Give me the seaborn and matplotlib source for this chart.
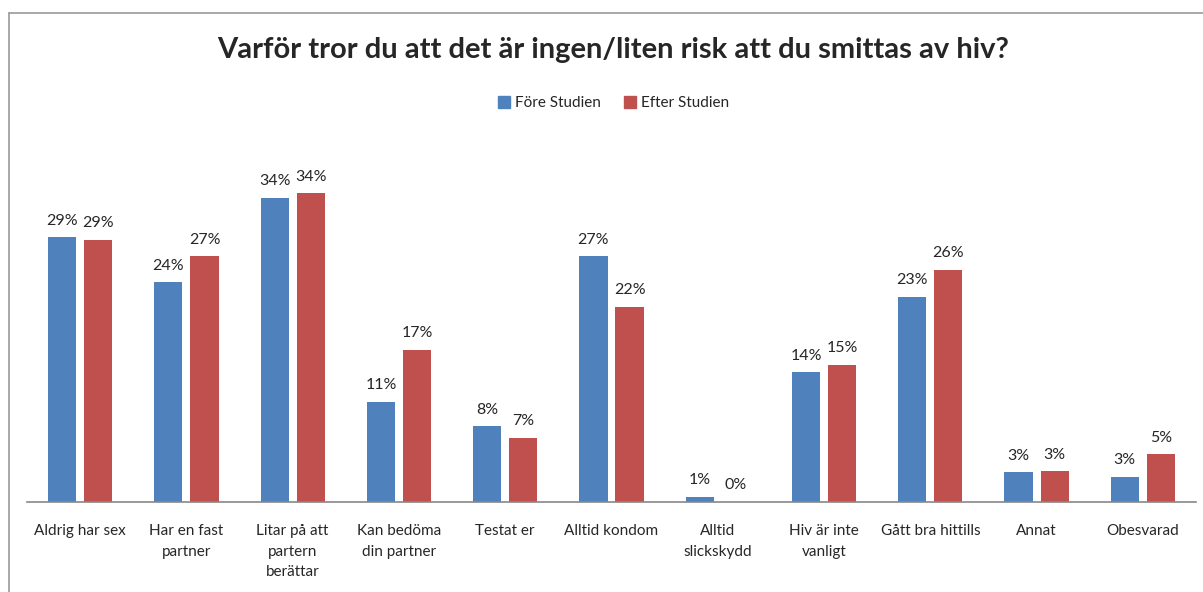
import pandas as pd
import matplotlib.pyplot as plt
import seaborn as sns
from matplotlib.lines import Line2D

categories = ['Aldrig har sex', 'Har en fast\npartner', 'Litar på att\npartern\nberättar',
              'Kan bedöma\ndin partner', 'Testat er', 'Alltid kondom', 'Alltid\nslickskydd',
              'Hiv är inte\nvanligt', 'Gått bra hittills', 'Annat', 'Obesvarad']
fore = [29.4, 24.4, 33.8, 11.1, 8.4, 27.3, 0.6, 14.4, 22.8, 3.3, 2.8]
efter = [29.1, 27.3, 34.3, 16.9, 7.1, 21.7, 0.0, 15.2, 25.8, 3.4, 5.3]
series = ['Före Studien', 'Efter Studien']
colors = ['#4F81BD', '#C0504D']

df = pd.DataFrame({'kategori': categories * 2,
                   'serie': [series[0]] * len(categories) + [series[1]] * len(categories),
                   'andel': fore + efter})

sns.set_style('white')
plt.rcParams['font.family'] = ['Lato', 'DejaVu Sans']

fig = plt.figure(figsize=(12.03, 5.92), dpi=100)
ax = fig.add_axes([27 / 1203, (592 - 502) / 592, (1196 - 27) / 1203, 360 / 592])

sns.barplot(data=df, x='kategori', y='andel', hue='serie', palette=colors, saturation=1,
            width=0.68, gap=0.22, ax=ax, edgecolor='none', legend=False)

for cont in ax.containers:
    ax.bar_label(cont, labels=[f'{v:.0f}%' for v in cont.datavalues],
                 padding=7, fontsize=11.5)

ax.set_ylim(0, 40)
ax.set_xlim(-0.5, len(categories) - 0.5)
ax.set_xlabel('')
ax.set_ylabel('')
ax.set_yticks([])
ax.tick_params(axis='x', length=0, pad=16, labelsize=11)
for lbl in ax.get_xticklabels():
    lbl.set_linespacing(1.6)
for s in ['top', 'right', 'left']:
    ax.spines[s].set_visible(False)
ax.spines['bottom'].set_color('#888888')
ax.spines['bottom'].set_linewidth(1.2)

fig.text(0.51, 1 - 50 / 592, 'Varför tror du att det är ingen/liten risk att du smittas av hiv?',
         ha='center', va='center', fontsize=21, fontweight='bold')

handles = [plt.Rectangle((0, 0), 1, 1, color=c) for c in colors]
fig.legend(handles, series, loc='center', bbox_to_anchor=(0.51, 1 - 103 / 592), ncol=2,
           frameon=False, fontsize=11, handlelength=0.8, handleheight=0.8,
           handletextpad=0.3, columnspacing=1.5)

# chart frame
fig.add_artist(Line2D([9 / 1203, 1], [1 - 13 / 592] * 2, color='#999999', lw=1.2))
fig.add_artist(Line2D([9 / 1203] * 2, [0, 1 - 13 / 592], color='#999999', lw=1.2))

fig.savefig('out.png', dpi=100)
